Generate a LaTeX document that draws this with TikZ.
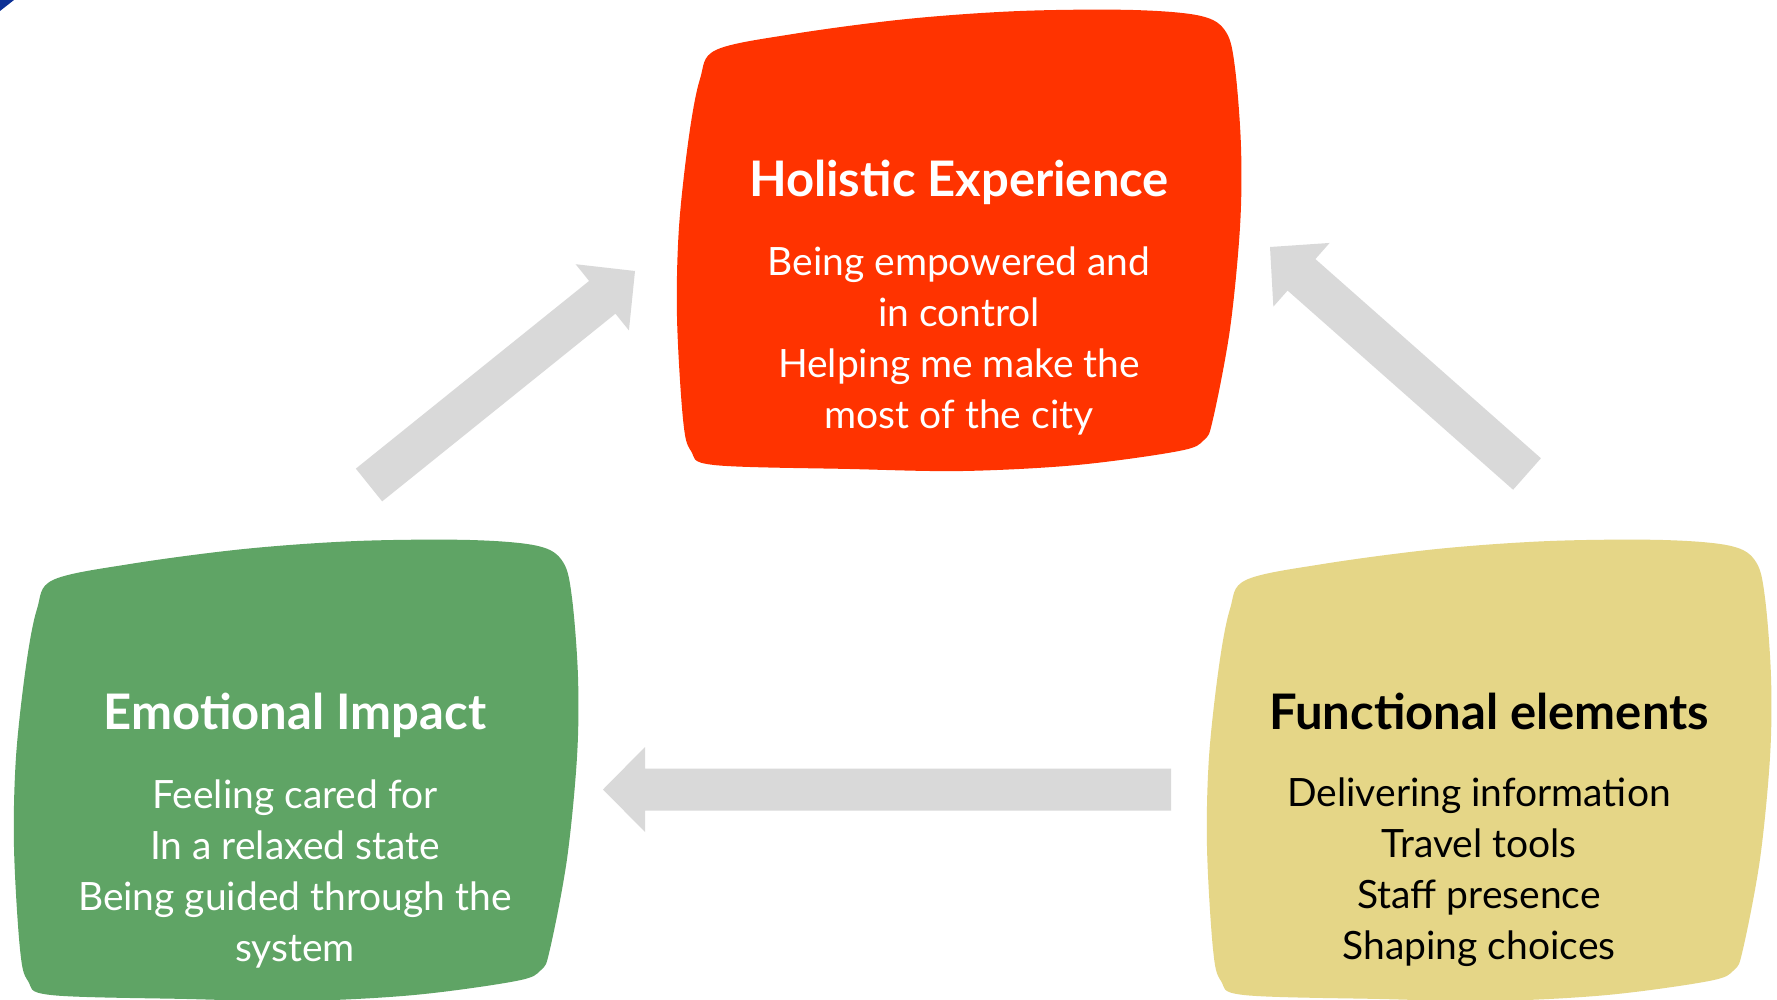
\documentclass[tikz,border=0pt]{standalone}
\usepackage{fontspec}
\setmainfont{Lato}
\usetikzlibrary{calc}

\definecolor{holired}{RGB}{255,51,0}
\definecolor{emogreen}{RGB}{95,164,101}
\definecolor{funcyellow}{RGB}{229,214,135}
\definecolor{arrowgray}{RGB}{217,217,217}
\definecolor{cornerblue}{RGB}{12,48,150}

\tikzset{
  pics/blob/.style={code={
    \fill[#1] plot[smooth cycle, tension=0.55] coordinates {
      (39,41) (116,25) (230,10) (343,2) (456,1) (524,7) (549,23) (558,59)
      (564,138) (563,218) (553,320) (536,410) (527,431) (502,442) (400,456)
      (286,462) (173,460) (37,456) (14,442) (6,410) (0,308) (2,218) (12,127) (23,70)};
  }},
  titletext/.style={font=\fontsize{49}{58}\selectfont\bfseries, anchor=base, inner sep=0pt},
  % multi-line text: the base anchor sits on the last line
  bodytext/.style={font=\fontsize{39}{51}\selectfont, align=center, anchor=base, inner sep=0pt},
  arrowfill/.style={fill=arrowgray}
}

% block arrow from tail centre #1 to tip #2
\newcommand{\drawblockarrow}[2]{%
  \path ($(#2)!42pt!(#1)$) coordinate (hb);
  \fill[arrowfill] ($(#1)!21pt!90:(#2)$) -- ($(hb)!21pt!90:(#2)$) -- ($(hb)!42.5pt!90:(#2)$)
    -- (#2) -- ($(hb)!42.5pt!-90:(#2)$) -- ($(hb)!21pt!-90:(#2)$) -- ($(#1)!21pt!-90:(#2)$) -- cycle;
}

\begin{document}
\begin{tikzpicture}[x=1pt,y=-1pt]
  \useasboundingbox (0,0) rectangle (1777,1000);
  \fill[white] (0,0) rectangle (1777,1000);
  \fill[cornerblue] (0,0) -- (14,0) -- (0,11) -- cycle;

  % the three areas
  \pic at (677,9) {blob=holired};
  \pic at (14,539) {blob=emogreen};
  \pic at (1207,539) {blob=funcyellow};

  % texts
  \node[titletext, text=white] (holtitle) at (959,197) {Holistic Experience};
  \node[bodytext, text=white] (holbody) at (959,428)
    {Being empowered and\\in control\\Helping me make the\\most of the city};

  \node[titletext, text=white] (emotitle) at (295,729) {Emotional Impact};
  \node[bodytext, text=white] (emobody) at (295,961)
    {Feeling cared for\\In a relaxed state\\Being guided through the\\system};

  \node[titletext, text=black] (functitle) at (1489,729) {Functional elements};
  \node[bodytext, text=black] (funcbody) at (1479,959)
    {Delivering information\\Travel tools\\Staff presence\\Shaping choices};

  % cycle arrows
  \coordinate (emoout) at (369,485);
  \coordinate (holin) at (635,271);
  \coordinate (funcout) at (1527,474);
  \coordinate (holin2) at (1270,247);
  \coordinate (funcleft) at (1171,789.5);
  \coordinate (emoin) at (603,789.5);
  \drawblockarrow{emoout}{holin}
  \drawblockarrow{funcout}{holin2}
  \drawblockarrow{funcleft}{emoin}
\end{tikzpicture}
\end{document}
